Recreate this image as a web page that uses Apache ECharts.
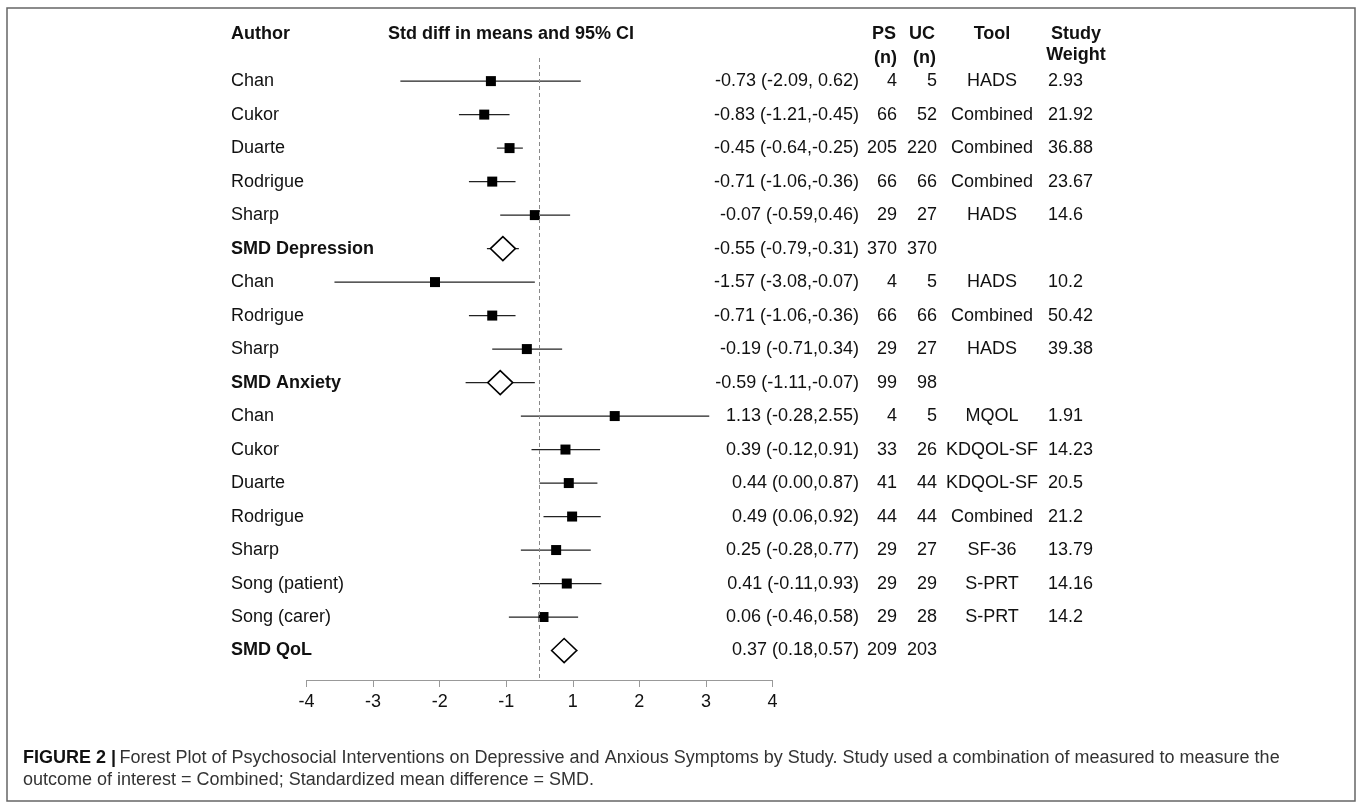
<!DOCTYPE html>
<html>
<head>
<meta charset="utf-8">
<script src="https://cdn.jsdelivr.net/npm/echarts@6/dist/echarts.min.js"></script>
<style>
html,body{margin:0;padding:0;background:#fff;}
#chart{width:1357px;height:802px;}
</style>
</head>
<body>
<div id="chart"></div>
<script>
// ---------- data ----------
const authors = ['Chan','Cukor','Duarte','Rodrigue','Sharp','SMD Depression','Chan','Rodrigue','Sharp','SMD Anxiety','Chan','Cukor','Duarte','Rodrigue','Sharp','Song (patient)','Song (carer)','SMD QoL'];
const isSummary = [0,0,0,0,0,1,0,0,0,1,0,0,0,0,0,0,0,1];
const estimates = [-0.73,-0.83,-0.45,-0.71,-0.07,-0.55,-1.57,-0.71,-0.19,-0.59,1.13,0.39,0.44,0.49,0.25,0.41,0.06,0.37];
const lowerCI = [-2.09,-1.21,-0.64,-1.06,-0.59,-0.79,-3.08,-1.06,-0.71,-1.11,-0.28,-0.12,0.00,0.06,-0.28,-0.11,-0.46,0.18];
const upperCI = [0.62,-0.45,-0.25,-0.36,0.46,-0.31,-0.07,-0.36,0.34,-0.07,2.55,0.91,0.87,0.92,0.77,0.93,0.58,0.57];
const ciText = ['-0.73 (-2.09, 0.62)','-0.83 (-1.21,-0.45)','-0.45 (-0.64,-0.25)','-0.71 (-1.06,-0.36)','-0.07 (-0.59,0.46)','-0.55 (-0.79,-0.31)','-1.57 (-3.08,-0.07)','-0.71 (-1.06,-0.36)','-0.19 (-0.71,0.34)','-0.59 (-1.11,-0.07)','1.13 (-0.28,2.55)','0.39 (-0.12,0.91)','0.44 (0.00,0.87)','0.49 (0.06,0.92)','0.25 (-0.28,0.77)','0.41 (-0.11,0.93)','0.06 (-0.46,0.58)','0.37 (0.18,0.57)'];
const psN = [4,66,205,66,29,370,4,66,29,99,4,33,41,44,29,29,29,209];
const ucN = [5,52,220,66,27,370,5,66,27,98,5,26,44,44,27,29,28,203];
const tools = ['HADS','Combined','Combined','Combined','HADS','','HADS','Combined','HADS','','MQOL','KDQOL-SF','KDQOL-SF','Combined','SF-36','S-PRT','S-PRT',''];
const weights = ['2.93','21.92','36.88','23.67','14.6','','10.2','50.42','39.38','','1.91','14.23','20.5','21.2','13.79','14.16','14.2',''];
const tickValues = [-3.5,-2.5,-1.5,-0.5,0.5,1.5,2.5,3.5];
const tickLabels = ['-4','-3','-2','-1','1','2','3','4'];

// ---------- layout ----------
const FONT = "'Liberation Sans', Arial, sans-serif";
const FS = 18;
const TXT = '#111';
const GRID_TOP = 58, GRID_H = 622;
const Y_MIN = -0.69, Y_MAX = 17.88;
const COL = {author: 231, ci: 859, ps: 897, uc: 937, tool: 992, weight: 1048};

const chart = echarts.init(document.getElementById('chart'), null, {renderer: 'canvas'});

function textSeries(name, xPos, values, align, boldSummary) {
  return {
    name: name,
    type: 'scatter',
    xAxisIndex: 1, yAxisIndex: 1,
    symbolSize: 0,
    silent: true,
    clip: false,
    itemStyle: {opacity: 1},
    emphasis: {disabled: true},
    data: values.map((v, i) => ({value: [xPos, i], txt: String(v), bold: !!(boldSummary && isSummary[i])})),
    label: {
      show: true,
      position: 'inside',
      align: align,
      verticalAlign: 'middle',
      opacity: 1,
      fontFamily: FONT,
      fontSize: FS,
      color: TXT,
      formatter: p => p.data.bold ? '{b|' + p.data.txt + '}' : p.data.txt,
      rich: {b: {fontFamily: FONT, fontSize: FS, fontWeight: 'bold', color: TXT}}
    }
  };
}

const markData = authors.map((a, i) => [i, estimates[i], lowerCI[i], upperCI[i], isSummary[i]]);

const option = {
  animation: false,
  backgroundColor: '#fff',
  grid: [
    {left: 306.5, width: 466, top: GRID_TOP, height: GRID_H},
    {left: 0, width: 1357, top: GRID_TOP, height: GRID_H}
  ],
  xAxis: [
    {
      type: 'value', gridIndex: 0, min: -3.5, max: 3.5, position: 'bottom',
      splitLine: {show: false},
      axisLine: {show: true, onZero: false, lineStyle: {color: '#999', width: 1}},
      axisTick: {show: true, customValues: tickValues, length: 7, lineStyle: {color: '#999', width: 1}},
      axisLabel: {
        show: true, customValues: tickValues, margin: 13,
        fontFamily: FONT, fontSize: FS, color: TXT,
        formatter: v => { const k = tickValues.findIndex(t => Math.abs(t - v) < 1e-6); return k >= 0 ? tickLabels[k] : ''; }
      }
    },
    {type: 'value', gridIndex: 1, min: 0, max: 1357, show: false}
  ],
  yAxis: [
    {type: 'value', gridIndex: 0, min: Y_MIN, max: Y_MAX, inverse: true, show: false},
    {type: 'value', gridIndex: 1, min: Y_MIN, max: Y_MAX, inverse: true, show: false}
  ],
  series: [
    {
      name: 'zero',
      type: 'scatter', xAxisIndex: 0, yAxisIndex: 0, data: [], silent: true,
      markLine: {
        silent: true, symbol: 'none', label: {show: false},
        lineStyle: {type: [4, 3], color: '#888', width: 1},
        data: [{xAxis: 0}]
      }
    },
    {
      name: 'forest',
      type: 'custom', xAxisIndex: 0, yAxisIndex: 0,
      silent: true,
      clip: false,
      data: markData,
      renderItem: function (params, api) {
        const row = api.value(0);
        const pE = api.coord([api.value(1), row]);
        const pL = api.coord([api.value(2), row]);
        const pH = api.coord([api.value(3), row]);
        const children = [{
          type: 'line',
          shape: {x1: pL[0], y1: pL[1], x2: pH[0], y2: pH[1]},
          style: {stroke: '#222', lineWidth: 1.2}
        }];
        if (api.value(4)) {
          const w = 12.5, h = 12;
          children.push({
            type: 'polygon',
            shape: {points: [[pE[0] - w, pE[1]], [pE[0], pE[1] - h], [pE[0] + w, pE[1]], [pE[0], pE[1] + h]]},
            style: {fill: '#fff', stroke: '#000', lineWidth: 1.6}
          });
        } else {
          children.push({
            type: 'rect',
            shape: {x: pE[0] - 5, y: pE[1] - 5, width: 10, height: 10},
            style: {fill: '#000'}
          });
        }
        return {type: 'group', children: children};
      }
    },
    textSeries('author', COL.author, authors, 'left', true),
    textSeries('ci', COL.ci, ciText, 'right', false),
    textSeries('ps', COL.ps, psN, 'right', false),
    textSeries('uc', COL.uc, ucN, 'right', false),
    textSeries('tool', COL.tool, tools, 'center', false),
    textSeries('weight', COL.weight, weights, 'left', false)
  ],
  graphic: [
    {type: 'rect', silent: true, shape: {x: 7, y: 8, width: 1348, height: 793}, style: {fill: 'none', stroke: '#666', lineWidth: 1.5}},
    {type: 'text', x: COL.author, y: 34, style: {text: 'Author', font: 'bold 18px ' + FONT, fill: TXT, verticalAlign: 'middle'}},
    {type: 'text', x: 511, y: 34, style: {text: 'Std diff in means and 95% CI', font: 'bold 18px ' + FONT, fill: TXT, align: 'center', verticalAlign: 'middle'}},
    {type: 'text', x: 896, y: 34, style: {text: 'PS', font: 'bold 18px ' + FONT, fill: TXT, align: 'right', verticalAlign: 'middle'}},
    {type: 'text', x: 897, y: 58, style: {text: '(n)', font: 'bold 18px ' + FONT, fill: TXT, align: 'right', verticalAlign: 'middle'}},
    {type: 'text', x: 935, y: 34, style: {text: 'UC', font: 'bold 18px ' + FONT, fill: TXT, align: 'right', verticalAlign: 'middle'}},
    {type: 'text', x: 936, y: 58, style: {text: '(n)', font: 'bold 18px ' + FONT, fill: TXT, align: 'right', verticalAlign: 'middle'}},
    {type: 'text', x: 992, y: 34, style: {text: 'Tool', font: 'bold 18px ' + FONT, fill: TXT, align: 'center', verticalAlign: 'middle'}},
    {type: 'text', x: 1076, y: 34, style: {text: 'Study', font: 'bold 18px ' + FONT, fill: TXT, align: 'center', verticalAlign: 'middle'}},
    {type: 'text', x: 1076, y: 55, style: {text: 'Weight', font: 'bold 18px ' + FONT, fill: TXT, align: 'center', verticalAlign: 'middle'}},
    {type: 'text', x: 23, y: 758, style: {
      text: '{b|FIGURE 2 |} {n|Forest Plot of Psychosocial Interventions on Depressive and Anxious Symptoms by Study. Study used a combination of measured to measure the}',
      verticalAlign: 'middle',
      rich: {
        b: {font: 'bold 18px ' + FONT, fill: '#111'},
        n: {font: '18px ' + FONT, fill: '#333'}
      }
    }},
    {type: 'text', x: 23, y: 780, style: {text: 'outcome of interest = Combined; Standardized mean difference = SMD.', font: '18px ' + FONT, fill: '#333', verticalAlign: 'middle'}}
  ]
};
chart.setOption(option);
</script>
</body>
</html>
